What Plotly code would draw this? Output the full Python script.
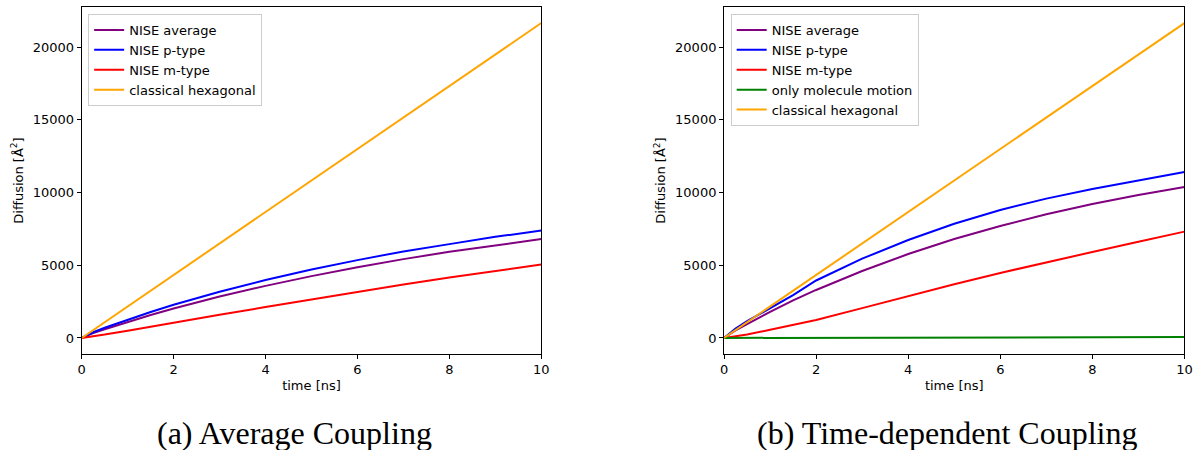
import plotly.graph_objects as go

W, H = 1204, 450

# ---------- data ----------
t = [0, 0.25, 0.5, 1, 1.5, 2, 3, 4, 5, 6, 7, 8, 9, 10]

# (a) Average Coupling
a_avg = [0, 330, 600, 1100, 1580, 2030, 2850, 3580, 4250, 4860, 5420, 5920, 6380, 6800]
a_p = [0, 390, 700, 1250, 1780, 2280, 3180, 3980, 4700, 5350, 5950, 6450, 6950, 7380]
a_m = [0, 100, 230, 500, 780, 1050, 1600, 2120, 2650, 3170, 3670, 4150, 4610, 5050]
a_hex = [0, 541, 1083, 2165, 3248, 4330, 6495, 8660, 10825, 12990, 15155, 17320, 19485, 21650]

# (b) Time-dependent Coupling
b_avg = [0, 520, 950, 1800, 2580, 3300, 4600, 5770, 6800, 7700, 8500, 9210, 9830, 10380]
b_p = [0, 640, 1150, 2050, 2950, 3950, 5450, 6730, 7850, 8800, 9580, 10240, 10850, 11410]
b_m = [0, 100, 230, 560, 900, 1240, 2050, 2890, 3690, 4470, 5210, 5910, 6620, 7310]
b_mol = [0, 2, 3, 6, 9, 12, 18, 24, 30, 36, 42, 48, 54, 60]
b_hex = a_hex

xticks = [0, 2, 4, 6, 8, 10]
yticks = [0, 5000, 10000, 15000, 20000]
yticklabels = ["0", "5000", "10000", "15000", "20000"]

PURPLE, BLUE, RED, GREEN, ORANGE = "#800080", "#0000ff", "#ff0000", "#008000", "#ffa500"

fig = go.Figure()

def add(x, y, name, color, xa, ya, leg):
    fig.add_trace(go.Scatter(x=x, y=y, mode="lines", name=name,
                             line=dict(color=color, width=2),
                             xaxis=xa, yaxis=ya, legend=leg))

add(t, a_avg, "NISE average", PURPLE, "x", "y", "legend")
add(t, a_p, "NISE p-type", BLUE, "x", "y", "legend")
add(t, a_m, "NISE m-type", RED, "x", "y", "legend")
add(t, a_hex, "classical hexagonal", ORANGE, "x", "y", "legend")

add(t, b_avg, "NISE average", PURPLE, "x2", "y2", "legend2")
add(t, b_p, "NISE p-type", BLUE, "x2", "y2", "legend2")
add(t, b_m, "NISE m-type", RED, "x2", "y2", "legend2")
add(t, b_mol, "only molecule motion", GREEN, "x2", "y2", "legend2")
add(t, b_hex, "classical hexagonal", ORANGE, "x2", "y2", "legend2")

font = dict(family="DejaVu Sans", size=13, color="black")

y0, y1 = 1 - 353.7 / H, 1 - 7.3 / H
yrange = [-1083, 22733]

common_x = dict(range=[0, 10], tickvals=xticks, ticks="outside", ticklen=4,
                tickwidth=1, tickcolor="black", showline=True, linecolor="black",
                linewidth=1, mirror=True, showgrid=False, zeroline=False,
                tickfont=font, title=dict(text="time [ns]", font=font, standoff=4))
common_y = dict(range=yrange, tickvals=yticks, ticktext=yticklabels, ticks="outside",
                ticklen=4, tickwidth=1, tickcolor="black", showline=True,
                linecolor="black", linewidth=1, mirror=True, showgrid=False,
                zeroline=False, tickfont=font,
                title=dict(text="Diffusion [Å<sup>2</sup>]", font=font, standoff=6))

legend_common = dict(font=font, bgcolor="rgba(255,255,255,0.8)", bordercolor="#cccccc",
                     borderwidth=1, xanchor="left", yanchor="top", itemwidth=30,
                     tracegroupgap=0)

cap_font = dict(family="Liberation Serif", size=32, color="black")

fig.update_layout(
    width=W, height=H, margin=dict(l=0, r=0, t=0, b=0),
    paper_bgcolor="white", plot_bgcolor="white",
    font=font,
    xaxis=dict(domain=[78.5 / W, 542.7 / W], anchor="y", **common_x),
    yaxis=dict(domain=[y0, y1], anchor="x", **common_y),
    xaxis2=dict(domain=[727.3 / W, 1192.3 / W], anchor="y2", **common_x),
    yaxis2=dict(domain=[y0, y1], anchor="x2", **common_y),
    legend=dict(x=85 / W, y=1 - 14 / H, **legend_common),
    legend2=dict(x=734 / W, y=1 - 14 / H, **legend_common),
    annotations=[
        dict(text="(a) Average Coupling", x=293 / W, y=1 - 433 / H, xref="paper",
             yref="paper", showarrow=False, xanchor="center", yanchor="middle",
             font=cap_font),
        dict(text="(b) Time-dependent Coupling", x=952 / W, y=1 - 433 / H, xref="paper",
             yref="paper", showarrow=False, xanchor="center", yanchor="middle",
             font=cap_font),
    ],
)

fig.write_html("out.html")
